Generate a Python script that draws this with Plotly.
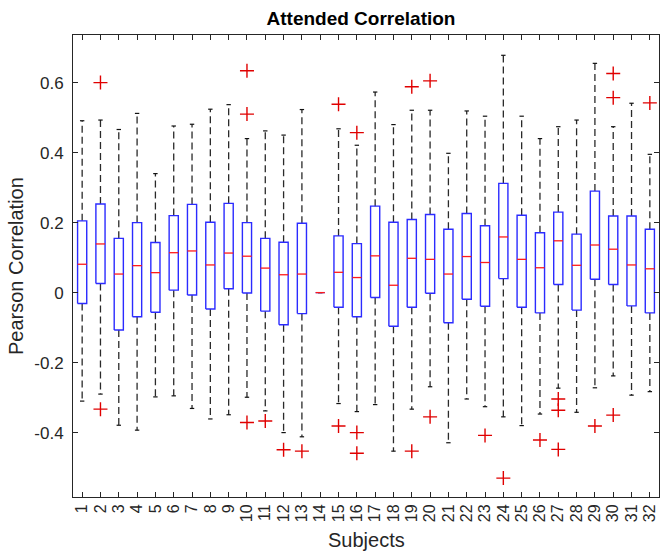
import plotly.graph_objects as go

subjects = list(range(1, 33))
tick_labels = [str(s) for s in subjects]

upper_whisker = [0.491, 0.493, 0.466, 0.512, 0.340, 0.476, 0.481, 0.524, 0.537, 0.440,
                 0.462, 0.450, 0.523, 0.0, 0.468, 0.421, 0.573, 0.480, 0.521, 0.521,
                 0.398, 0.519, 0.504, 0.678, 0.504, 0.440, 0.474, 0.493, 0.655, 0.474,
                 0.541, 0.395]
q3 = [0.205, 0.253, 0.155, 0.200, 0.143, 0.220, 0.252, 0.201, 0.255, 0.200,
      0.155, 0.144, 0.198, 0.0, 0.162, 0.140, 0.247, 0.201, 0.209, 0.223,
      0.181, 0.226, 0.191, 0.312, 0.221, 0.171, 0.230, 0.167, 0.290, 0.219,
      0.219, 0.181]
median = [0.081, 0.139, 0.053, 0.077, 0.057, 0.114, 0.119, 0.079, 0.113, 0.104,
          0.070, 0.051, 0.053, 0.0, 0.058, 0.043, 0.105, 0.021, 0.098, 0.095,
          0.053, 0.103, 0.086, 0.159, 0.095, 0.071, 0.148, 0.078, 0.136, 0.124,
          0.079, 0.068]
q1 = [-0.031, 0.026, -0.107, -0.069, -0.056, 0.007, -0.007, -0.047, 0.011, -0.001,
      -0.053, -0.092, -0.060, 0.0, -0.042, -0.069, -0.014, -0.096, -0.042, -0.002,
      -0.086, -0.019, -0.039, 0.040, -0.042, -0.058, 0.023, -0.050, 0.038, 0.023,
      -0.038, -0.058]
lower_whisker = [-0.310, -0.290, -0.379, -0.393, -0.298, -0.295, -0.331, -0.361, -0.349, -0.299,
                 -0.338, -0.400, -0.412, 0.0, -0.317, -0.340, -0.320, -0.453, -0.333, -0.269,
                 -0.429, -0.304, -0.326, -0.355, -0.380, -0.347, -0.273, -0.342, -0.272, -0.238,
                 -0.293, -0.283]
outliers = [[], [0.600, -0.333], [], [], [], [], [], [], [], [0.634, 0.510, -0.371],
            [-0.367], [-0.449], [-0.453], [], [0.538, -0.381], [0.457, -0.400, -0.459], [], [], [0.588, -0.453], [0.605, -0.355],
            [], [], [-0.408], [-0.530], [], [-0.421], [-0.304, -0.336, -0.448], [], [-0.381], [0.626, 0.557, -0.350],
            [], [0.542]]

HALF = 0.25
CAP = 0.12

bx, by = [], []
mx, my = [], []
wx, wy = [], []
cx, cy = [], []
ox, oy = [], []
for i, s in enumerate(subjects):
    bx += [s - HALF, s + HALF, s + HALF, s - HALF, s - HALF, None]
    by += [q1[i], q1[i], q3[i], q3[i], q1[i], None]
    mx += [s - HALF, s + HALF, None]
    my += [median[i], median[i], None]
    wx += [s, s, None, s, s, None]
    wy += [q3[i], upper_whisker[i], None, q1[i], lower_whisker[i], None]
    cx += [s - CAP, s + CAP, None, s - CAP, s + CAP, None]
    cy += [upper_whisker[i], upper_whisker[i], None, lower_whisker[i], lower_whisker[i], None]
    for v in outliers[i]:
        ox.append(s)
        oy.append(v)

fig = go.Figure()
fig.add_trace(go.Scatter(x=wx, y=wy, mode="lines",
                         line=dict(color="#2a2a2a", width=1.3, dash="7px,4px"), hoverinfo="skip"))
fig.add_trace(go.Scatter(x=cx, y=cy, mode="lines",
                         line=dict(color="#111111", width=1.2), hoverinfo="skip"))
fig.add_trace(go.Scatter(x=bx, y=by, mode="lines",
                         line=dict(color="#2b2bff", width=1.4), hoverinfo="skip"))
fig.add_trace(go.Scatter(x=mx, y=my, mode="lines",
                         line=dict(color="#ff1a1a", width=1.3), hoverinfo="skip"))
fig.add_trace(go.Scatter(x=ox, y=oy, mode="markers",
                         marker=dict(symbol="cross-thin", size=10,
                                     line=dict(color="#e00000", width=1.4)),
                         hoverinfo="skip"))

W, H = 661, 552
L, R, T, B = 73, 2, 35, 55
pw, ph = W - L - R, H - T - B

font_family = "Liberation Sans, Arial, sans-serif"
fig.update_layout(
    template="none",
    width=W, height=H,
    margin=dict(l=L, r=R, t=T, b=B, pad=0),
    paper_bgcolor="white", plot_bgcolor="white",
    showlegend=False,
    font=dict(family=font_family, size=16, color="#262626"),
    title=dict(text="<b>Attended Correlation</b>", x=(361 - L) / pw, xref="paper", xanchor="center",
               y=1 - 18 / H, yref="container", yanchor="middle",
               font=dict(family=font_family, size=19, color="#000000")),
    xaxis=dict(range=[0.5, 32.5], tickmode="array", tickvals=subjects, ticktext=tick_labels,
               tickangle=-90, ticks="inside", ticklen=5, tickcolor="#262626",
               showgrid=False, zeroline=False, showline=True, linecolor="#262626",
               linewidth=1, mirror="ticks", automargin=False,
               tickfont=dict(size=16, color="#262626")),
    yaxis=dict(range=[-0.584, 0.736], tickmode="array",
               tickvals=[-0.4, -0.2, 0, 0.2, 0.4, 0.6],
               ticktext=["-0.4", "-0.2", "0", "0.2", "0.4", "0.6"],
               ticks="inside", ticklen=5, tickcolor="#262626",
               showgrid=False, zeroline=False, showline=True, linecolor="#262626",
               linewidth=1, mirror="ticks", automargin=False, ticklabelstandoff=5,
               tickfont=dict(size=17, color="#262626")),
    annotations=[
        dict(text="Pearson Correlation", textangle=-90, xref="paper", yref="paper",
             x=(16 - L) / pw, y=(H - B - 266) / ph, xanchor="center", yanchor="middle",
             showarrow=False, font=dict(size=20, color="#262626")),
        dict(text="Subjects", xref="paper", yref="paper",
             x=0.5, y=(H - B - 540) / ph, xanchor="center", yanchor="middle",
             showarrow=False, font=dict(size=20, color="#262626")),
    ],
)

fig.write_html("out.html", config={"displayModeBar": False},
               post_script="document.body.style.margin='0';document.body.style.overflow='hidden';")
